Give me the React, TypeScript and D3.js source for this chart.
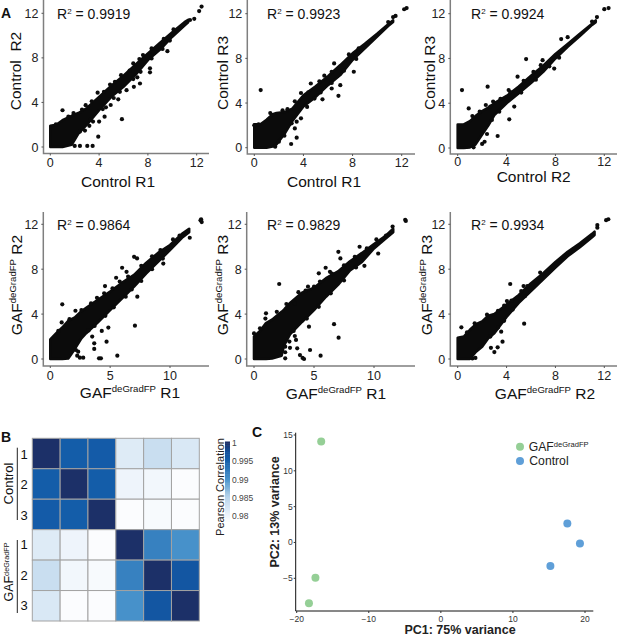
import React from "react";
import * as d3 from "d3";

type Pt = [number, number];
type Env = [number, number, number];

// ---------- scatter data (x, lower edge, upper edge of the dense cloud; then isolated points)
const cloudC1C2: Env[] = [[0,0,1.9],[0.5,0,2],[1,0,2.4],[1.75,0.2,2.8],[2.3,1.2,3.05],[3,2,3.5],[4,3.3,4.5],[5,4.5,5.5],[6,5.4,6.4],[7,6.5,7.4],[8,7.8,8.4],[9,8.75,9.35],[10,9.9,10.3],[11,10.9,11.2],[11.3,11.2,11.4]];
const dotsC1C2: Pt[] = [[12.4,12.6],[12.2,12.2],[11.8,11.5],[11.45,11.4],[9.6,8.6],[8.17,7.07],[8.17,6.7],[7.6,8.25],[7.13,6.25],[6.85,5.4],[7.35,5.7],[6.25,5.1],[5.57,4.28],[5.87,2.5],[1,3.3],[3.88,4.88],[3.93,0.93],[3.47,0.1],[3.03,0.1],[2.43,0.1],[2,0.1],[0.46,2.03],[4.45,2.72],[4,2.28],[3.5,2.28],[3.2,1.9],[2.84,1.47],[2.43,1.38],[4.56,3.56],[4.95,3.77],[1.48,2.72],[6.5,6.85],[5.3,5.85],[2.6,3.35],[1.9,3.05],[2.9,3.75],[3.4,4.1],[4.4,4.95],[4.9,5.6],[5.8,6.45],[6.8,7.5],[7.3,7.9],[8.3,8.85],[9.3,9.7],[10.1,10.55],[3.3,2.45],[4.3,3.4],[5.2,4.4],[5.7,4.95],[6.8,6.1],[7.4,6.75],[8.3,7.95],[9.2,8.8],[9.8,9.55]];
const cloudC1C3: Env[] = [[0,0,2.1],[0.5,0,2.1],[1,0,2.5],[1.5,0.1,3],[1.8,0.3,3.1],[2.5,1.3,3.2],[3.1,2.4,3.5],[4,3.7,4.7],[5,4.55,5.5],[6,5.6,6.4],[7,6.5,7.4],[8,7.85,8.45],[9,8.9,9.3],[10,9.95,10.2],[11,11,11.15],[11.3,11.25,11.4]];
const dotsC1C3: Pt[] = [[12.4,12.5],[12.2,12.4],[11.5,11.8],[11.3,11.7],[10.9,11.25],[0.52,5.16],[6.5,7.55],[8.1,6.8],[7,5.6],[6.85,4.65],[6.3,5.3],[5.55,4.33],[4.6,5.75],[3.04,2.18],[3.45,2.33],[3.3,1.73],[3.45,0.9],[3,0.33],[2.36,1.28],[2,0.54],[2.45,1.07],[1.7,0.09],[3.8,2.63],[0,2],[0.35,2.1],[1.3,3.1],[2.3,3.35],[2.7,3.45],[3.3,4.15],[3.8,4.9],[4.4,4.95],[5.3,5.95],[5.7,6.45],[6.3,6.8],[7.7,8.35],[8.5,8.9],[4.3,3.65],[4.9,4.4],[5.4,4.95],[6.3,5.8],[7.3,6.9],[8.3,7.95]];
const cloudC2C3: Env[] = [[0,0,2.1],[0.5,0,2.1],[1,0.05,2.4],[1.45,0.3,2.85],[2,1.2,3.3],[2.5,2,3.6],[3,2.95,4],[4,4,4.65],[5,4.9,5.5],[6,5.8,6.45],[7,6.8,7.35],[8,8,8.4],[9,9.05,9.3],[10,10,10.2],[11,11,11.1],[11.3,11.25,11.4]];
const dotsC2C3: Pt[] = [[12.35,12.5],[12,12.4],[11.4,11.7],[11,11.3],[9,9.9],[8.47,9.73],[8.3,8.07],[7.9,7.1],[5.6,7.95],[6.95,7.85],[4.9,6.37],[2.45,5.48],[0.35,5.18],[0.9,3.54],[2.3,3.84],[2.67,3.7],[4.17,5.18],[4.22,2.56],[4.63,3.7],[3.27,1.07],[2.4,1.25],[2.2,0.56],[2,0.36],[1.3,0.06],[1.2,2.85],[1.8,3.25],[2.9,4.15],[3.5,4.4],[4.3,5],[5.4,6],[6.2,6.8],[6.8,7.4],[5.2,4.95],[6.4,6.1],[7.5,7.3],[3.4,3.25],[2.8,2.5]];
const cloudG1G2: Env[] = [[0,0,1.75],[0.5,0,2.3],[1,0,2.8],[1.5,0.05,3.4],[2.05,0.9,3.7],[2.6,1.85,4.25],[3,2.3,4.55],[4,3.3,5.3],[5,4.35,6],[6,5.4,6.8],[7,6.45,7.5],[8,7.6,8.55],[9,8.65,9.45],[10,9.7,10.15],[11,10.8,11.15],[11.6,11.3,11.6]];
const dotsG1G2: Pt[] = [[12.6,12.45],[12.65,12.2],[12.55,12.35],[11.65,10.8],[1,4.87],[7,9.1],[7.25,8.96],[6,8.13],[6.37,7.77],[5.5,7.24],[4.57,6.5],[2.1,4.3],[2.6,4.36],[0.95,3.26],[0.67,2.5],[7.07,2.97],[7.27,5.55],[5.6,0.3],[4.07,0.06],[4.23,0.06],[4.7,1.54],[3.67,1.4],[3.67,0.9],[3.5,2],[4.3,2.5],[4.85,2.8],[2.75,0.12],[2.47,0.12],[2.25,0.3],[2.33,0.65],[2.14,0.8],[9.44,8.5],[10.25,10.65],[10.8,11],[1.6,3.55],[3.4,4.95],[3.9,5.45],[4.5,5.85],[5.2,6.3],[5.8,6.9],[6.5,7.35],[7.6,8.3],[8.5,9.15],[9.2,9.7],[3.2,2.55],[3.7,2.95],[4.6,3.85],[5.3,4.6],[6.3,5.55],[6.8,6.2],[7.6,6.95],[8.5,8],[9.4,8.95]];
const cloudG1G3: Env[] = [[0,0,2],[0.5,0,2.5],[1,0,3.2],[1.5,0.05,3.5],[2.3,0.3,4.2],[2.5,1.2,4.4],[3,2.2,5],[4,3.3,5.9],[5,4.35,6.35],[6,5.55,7.2],[7,6.6,7.8],[8,7.9,8.7],[9,8.65,9.45],[10,9.85,10.25],[11,10.75,11],[11.6,11.3,11.6]];
const dotsG1G3: Pt[] = [[12.6,12.4],[12.65,12.3],[11.55,11.8],[2.1,6.68],[7.03,9.55],[7.2,8.96],[5.97,8.13],[6.33,7.77],[5.4,7.63],[4.5,6.44],[5,6.44],[1,4.07],[0.95,3.6],[0.5,2.73],[0,2.28],[3.4,4.95],[1.9,4.2],[6.67,3.1],[7.05,1.9],[5.55,0.3],[4.67,0.8],[4.58,2.88],[4.05,0.1],[4.17,0],[3.83,0.35],[3.6,0.95],[3,1],[3.5,1.7],[3.4,2.05],[2.95,1.55],[2.6,1.1],[2.6,0.6],[2.6,0.06],[9.2,8.3],[10.35,9.4],[8.8,10],[10.2,10.65],[11,11],[2.7,4.9],[3.7,5.95],[4.3,6.1],[5.5,6.9],[6.5,7.6],[7.5,8.35],[8.4,9.1],[9.4,9.85],[3.3,2.5],[4.4,3.6],[5.4,4.65],[6.4,5.85],[7.5,7],[8.5,8.15]];
const cloudG2G3: Env[] = [[0,0,1.9],[0.5,0,2],[1,0,2.6],[1.5,0.65,3.1],[2,1.1,3.35],[2.5,1.85,3.85],[3,2.3,4],[4,3.75,4.85],[5,5,5.7],[6,6.05,6.75],[7,7.1,7.65],[8,8.15,8.65],[9,9.15,9.55],[10,9.95,10.3],[11,10.85,11.15],[11.2,11.05,11.35]];
const dotsG2G3: Pt[] = [[12.33,12.45],[12.15,12.37],[11.43,11.93],[11.43,11.7],[4.3,6.68],[5.39,6.5],[5.44,3.15],[4.03,5.16],[6.75,7.7],[0.3,2.82],[0.76,2.37],[1.39,3.18],[3.56,2.43],[3.67,1.54],[3.27,1.04],[3,0.62],[2.72,1],[2.67,2],[1.2,0.05],[1.45,0.1],[2.4,3.95],[3.3,4.3],[3.8,4.75],[4.4,5.2],[5.2,6.05],[5.7,6.5],[3.3,2.8],[3.8,3.4],[4.5,4.4],[5.5,5.6]];

const ticks12 = [0, 4, 8, 12];
const ticks10 = [0, 5, 10];
const yTicks = [0, 4, 8, 12];
const r2Labels = ["0.9919", "0.9923", "0.9924", "0.9864", "0.9829", "0.9934"];

// ---------- heatmap
const heatRows = ["1", "2", "3", "1", "2", "3"];
const heatValues = [
  [1, 0.9955, 0.9957, 0.9815, 0.9835, 0.982],
  [0.9955, 1, 0.9955, 0.98, 0.9795, 0.9785],
  [0.9957, 0.9955, 1, 0.9785, 0.979, 0.9785],
  [0.9815, 0.98, 0.9785, 1, 0.9918, 0.9903],
  [0.9835, 0.9795, 0.979, 0.9918, 1, 0.9965],
  [0.982, 0.9785, 0.9785, 0.9903, 0.9965, 1],
];
const heatStops = [0.978, 0.98, 0.985, 0.99, 0.995, 0.9975, 1];
const heatColors = ["#ffffff", "#eef4fb", "#b9d5ec", "#4a94cc", "#1560ac", "#114f9c", "#1c3068"];
const legendTicks = [1, 0.995, 0.99, 0.985, 0.98];

// ---------- PCA
const gafPC: Pt[] = [[-16.6, 14.1], [-17.4, -4.93], [-18.3, -8.47]];
const ctlPC: Pt[] = [[17.55, 2.65], [19.3, -0.14], [15.2, -3.3]];
const pcXTicks = [-20, -10, 0, 10, 20];
const pcYTicks = [-5, 0, 5, 10, 15];

const FONT = "'Liberation Sans', Arial, sans-serif";
const INK = "#0b0b0b";
const GAF = (size: number, ratio = 0.62) => (
  <>
    GAF<tspan fontSize={size * ratio} dy={-size * 0.36}>deGradFP</tspan>
  </>
);

type Panel = {
  cloud: Env[]; dots: Pt[]; x0: number; xEnd: number; xMax: number; xTicks: number[];
  y0: number; y12: number; axL: number; axR: number; axT: number; axB: number;
  xLab: React.ReactNode; xLabX: number; xLabY: number;
  yLab: React.ReactNode; yLabX: number; yLabY: number;
  r2X: number; r2Y: number; r2: string; tickY: number;
};

const sup = 15.5;
const gafX = (s: string) => <>{GAF(sup)}<tspan dy={sup * 0.36}> {s}</tspan></>;

const panels: Panel[] = [
  { cloud: cloudC1C2, dots: dotsC1C2, x0: 50.3, xEnd: 196.7, xMax: 12, xTicks: ticks12, y0: 147, y12: 13.3, axL: 43.5, axR: 209, axT: 0, axB: 153.5, xLab: "Control R1", xLabX: 118, xLabY: 187, yLab: "Control  R2", yLabX: 21, yLabY: 71, r2X: 57, r2Y: 19, r2: r2Labels[0], tickY: 167 },
  { cloud: cloudC1C3, dots: dotsC1C3, x0: 254.3, xEnd: 401.7, xMax: 12, xTicks: ticks12, y0: 147.7, y12: 13.7, axL: 247.3, axR: 415, axT: 0, axB: 154, xLab: "Control R1", xLabX: 324, xLabY: 187, yLab: "Control R3", yLabX: 228, yLabY: 73, r2X: 267, r2Y: 19, r2: r2Labels[1], tickY: 167 },
  { cloud: cloudC2C3, dots: dotsC2C3, x0: 457.7, xEnd: 604.3, xMax: 12, xTicks: ticks12, y0: 148, y12: 13.7, axL: 450.3, axR: 617, axT: 0, axB: 154, xLab: "Control R2", xLabX: 533.7, xLabY: 182, yLab: "Control R3", yLabX: 435, yLabY: 73, r2X: 471, r2Y: 19, r2: r2Labels[2], tickY: 166 },
  { cloud: cloudG1G2, dots: dotsG1G2, x0: 50.3, xEnd: 170, xMax: 10, xTicks: ticks10, y0: 359, y12: 224.3, axL: 43.3, axR: 209, axT: 212, axB: 366, xLab: gafX("R1"), xLabX: 130, xLabY: 398, yLab: gafX("R2"), yLabX: 22, yLabY: 285, r2X: 57, r2Y: 230, r2: r2Labels[3], tickY: 380 },
  { cloud: cloudG1G3, dots: dotsG1G3, x0: 254, xEnd: 374, xMax: 10, xTicks: ticks10, y0: 359, y12: 224.3, axL: 246.7, axR: 415, axT: 212, axB: 366, xLab: gafX("R1"), xLabX: 336, xLabY: 399, yLab: gafX("R3"), yLabX: 228, yLabY: 285, r2X: 267, r2Y: 230, r2: r2Labels[4], tickY: 380 },
  { cloud: cloudG2G3, dots: dotsG2G3, x0: 457.7, xEnd: 604.3, xMax: 12, xTicks: ticks12, y0: 359, y12: 224.3, axL: 450.3, axR: 617, axT: 212, axB: 366, xLab: gafX("R2"), xLabX: 545, xLabY: 399, yLab: gafX("R3"), yLabX: 432, yLabY: 285, r2X: 471, r2Y: 230, r2: r2Labels[5], tickY: 380 },
];

function Scatter({ p }: { p: Panel }) {
  const x = d3.scaleLinear().domain([0, p.xMax]).range([p.x0, p.xEnd]);
  const y = d3.scaleLinear().domain([0, 12]).range([p.y0, p.y12]);
  const area = d3.area<Env>().x((d) => x(d[0])).y0((d) => y(d[1])).y1((d) => y(d[2]));
  return (
    <g fontFamily={FONT}>
      <path d={area(p.cloud) ?? ""} fill={INK} stroke={INK} strokeWidth={2.6} strokeLinejoin="round" />
      {p.dots.map((d, i) => (
        <circle key={i} cx={x(d[0])} cy={y(d[1])} r={2.1} fill={INK} />
      ))}
      <path d={`M${p.axL},${p.axT}V${p.axB}H${p.axR}`} fill="none" stroke="#7f7f7f" strokeWidth={1.5} />
      {p.xTicks.map((t) => (
        <g key={t}>
          <line x1={x(t)} x2={x(t)} y1={p.axB} y2={p.axB + 2} stroke="#555" />
          <text x={x(t)} y={p.tickY} textAnchor="middle" fontSize={12.5} fill="#222">{t}</text>
        </g>
      ))}
      {yTicks.map((t) => (
        <g key={t}>
          <line x1={p.axL - 2} x2={p.axL} y1={y(t)} y2={y(t)} stroke="#555" />
          <text x={p.axL - 5} y={y(t) + 4.5} textAnchor="end" fontSize={12.5} fill="#222">{t}</text>
        </g>
      ))}
      <text x={p.r2X} y={p.r2Y} fontSize={14} fill="#111">
        R<tspan fontSize={8} dy={-5}>2</tspan><tspan dy={5}> = {p.r2}</tspan>
      </text>
      <text x={p.xLabX} y={p.xLabY} textAnchor="middle" fontSize={sup} fill="#111" xmlSpace="preserve">{p.xLab}</text>
      <text transform={`translate(${p.yLabX},${p.yLabY}) rotate(-90)`} textAnchor="middle" fontSize={sup} fill="#111" xmlSpace="preserve">{p.yLab}</text>
    </g>
  );
}

function Heatmap() {
  const x = d3.scaleBand<number>().domain(d3.range(6)).range([32.3, 199.3]);
  const y = d3.scaleBand<number>().domain(d3.range(6)).range([438.3, 621]);
  const color = d3.scaleLinear<string>().domain(heatStops).range(heatColors).clamp(true);
  const legY = d3.scaleLinear().domain([0.98, 1]).range([516, 443.3]);
  const legSteps = d3.range(0.978, 1.0001, 0.0005);
  return (
    <g fontFamily={FONT}>
      {heatValues.map((row, r) =>
        row.map((v, c) => (
          <rect key={`${r}-${c}`} x={x(c)} y={y(r)} width={x.bandwidth()} height={y.bandwidth()} fill={color(v)} stroke="#a3a3a3" strokeWidth={1} />
        ))
      )}
      {heatRows.map((l, r) => (
        <text key={r} x={24} y={(y(r) ?? 0) + y.bandwidth() / 2 + (r < 3 ? 1 : 0) + 4.5} textAnchor="middle" fontSize={13} fill="#111">{l}</text>
      ))}
      <line x1={17.3} x2={17.3} y1={447.7} y2={520} stroke="#222" strokeWidth={1} />
      <line x1={17.3} x2={17.3} y1={540} y2={613} stroke="#222" strokeWidth={1} />
      <text transform="translate(13,483.5) rotate(-90)" textAnchor="middle" fontSize={13} fill="#111">Control</text>
      <text transform="translate(13,572) rotate(-90)" textAnchor="middle" fontSize={12.5} fill="#111">{GAF(12.5, 0.58)}</text>
      {legSteps.map((v) => (
        <rect key={v} x={225} y={legY(v + 0.0005)} width={5} height={legY(v) - legY(v + 0.0005) + 0.5} fill={color(v)} />
      ))}
      {legendTicks.map((t) => (
        <text key={t} x={232} y={legY(t) + 3} fontSize={8.5} fill="#444">{t}</text>
      ))}
      <text transform="translate(223.5,487) rotate(-90)" textAnchor="middle" fontSize={11} fill="#222">Pearson Correlation</text>
    </g>
  );
}

function Pca() {
  const x = d3.scaleLinear().domain([-20, 20]).range([296.7, 585]);
  const y = d3.scaleLinear().domain([-5, 15]).range([578.3, 435]);
  const axL = 295.7, axB = 611, axT = 432.7, axR = 593.3;
  return (
    <g fontFamily={FONT}>
      <path d={`M${axL},${axT}V${axB}H${axR}`} fill="none" stroke="#111" strokeWidth={1} />
      {pcXTicks.map((t) => (
        <g key={t}>
          <line x1={x(t)} x2={x(t)} y1={axB} y2={axB + 2} stroke="#333" />
          <text x={x(t)} y={622} textAnchor="middle" fontSize={8.5} fill="#333">{t < 0 ? `\u2212${-t}` : t}</text>
        </g>
      ))}
      {pcYTicks.map((t) => (
        <g key={t}>
          <line x1={axL - 2} x2={axL} y1={y(t)} y2={y(t)} stroke="#333" />
          <text x={axL - 3} y={y(t) + 3} textAnchor="end" fontSize={8.5} fill="#333">{t < 0 ? `\u2212${-t}` : t}</text>
        </g>
      ))}
      {gafPC.map((d, i) => <circle key={i} cx={x(d[0])} cy={y(d[1])} r={4} fill="#95cf96" />)}
      {ctlPC.map((d, i) => <circle key={i} cx={x(d[0])} cy={y(d[1])} r={4} fill="#5f9fd8" />)}
      <circle cx={520} cy={446.7} r={4} fill="#95cf96" />
      <circle cx={520} cy={461} r={4} fill="#5f9fd8" />
      <text x={528.7} y={451} fontSize={12.2} fill="#222">{GAF(12.2)}</text>
      <text x={529.3} y={465.3} fontSize={12.2} fill="#222">Control</text>
      <text x={460} y={634.3} textAnchor="middle" fontSize={12.5} fontWeight="bold" fill="#222">PC1: 75% variance</text>
      <text transform="translate(278.5,512) rotate(-90)" textAnchor="middle" fontSize={12.5} fontWeight="bold" fill="#222">PC2: 13% variance</text>
    </g>
  );
}

export default function App() {
  return (
    <svg width={617} height={637} style={{ position: "absolute", left: 0, top: 0, background: "#fff" }}>
      {panels.map((p, i) => <Scatter key={i} p={p} />)}
      <Heatmap />
      <Pca />
      <g fontFamily={FONT} fontWeight="bold" fontSize={14} fill="#111">
        <text x={1} y={18}>A</text>
        <text x={1} y={441.5}>B</text>
        <text x={252} y={437}>C</text>
      </g>
    </svg>
  );
}
